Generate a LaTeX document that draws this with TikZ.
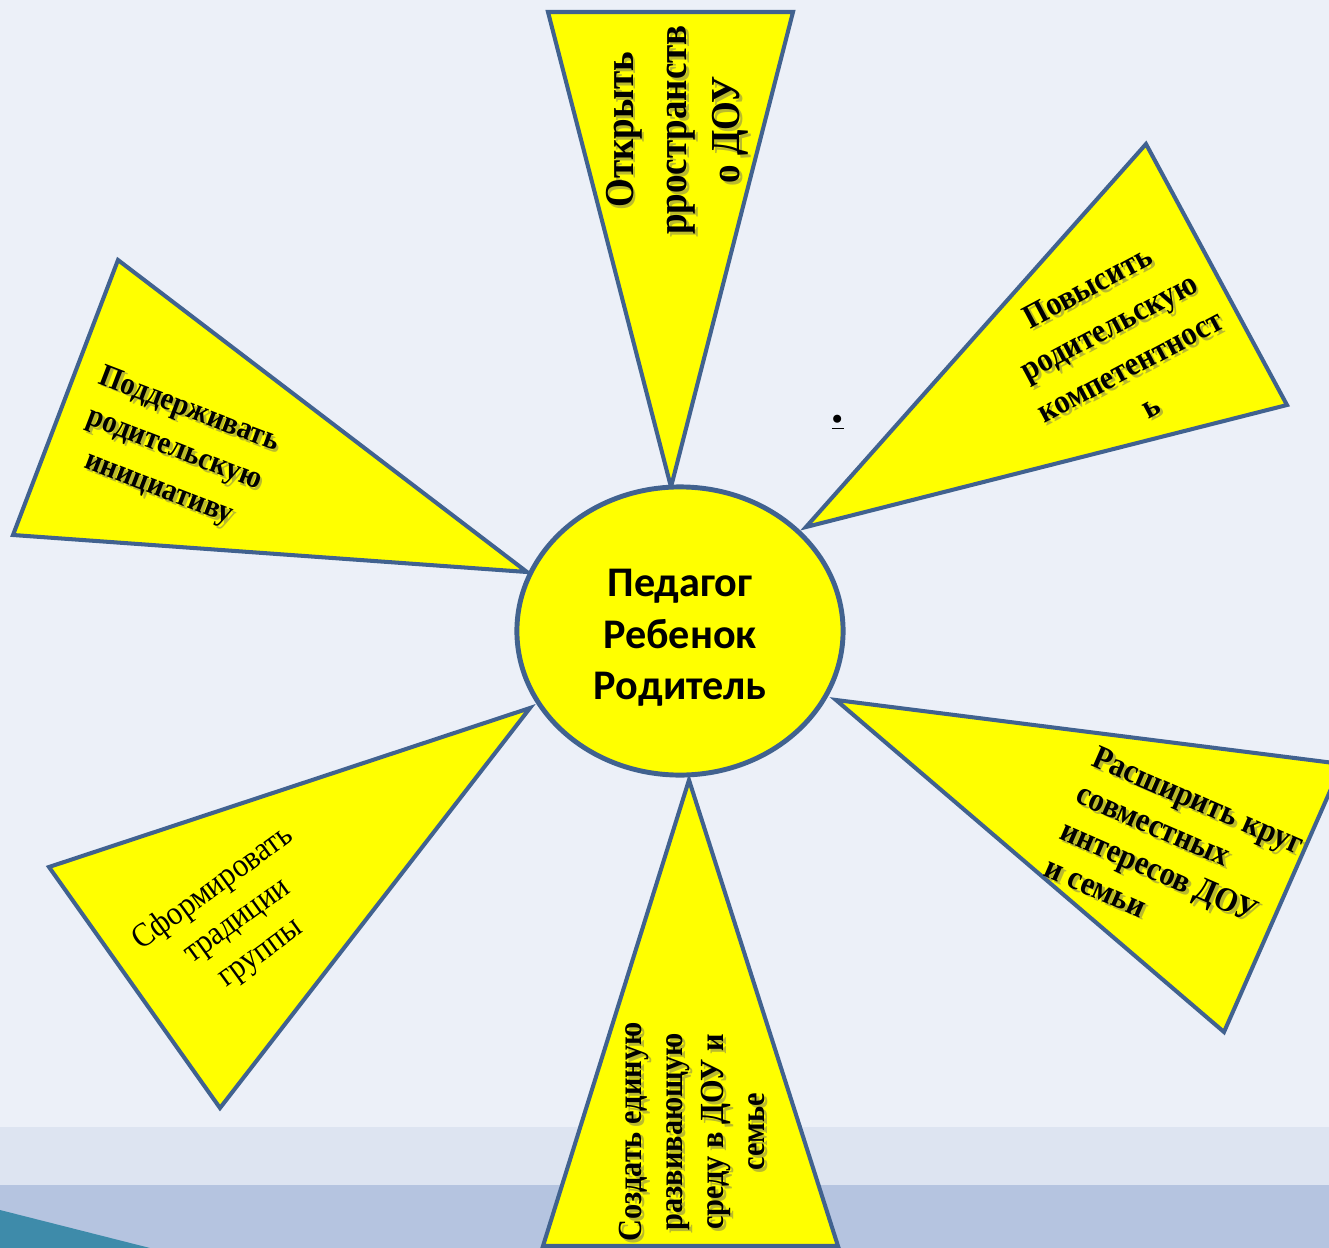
\documentclass[tikz,border=0pt]{standalone}
\usepackage{fontspec}
\setmainfont{Liberation Serif}
\newfontfamily\nserif[FakeStretch=0.9]{Liberation Serif}
\newfontfamily\calib{Carlito}
\usetikzlibrary{shapes.geometric}
\definecolor{bg}{HTML}{ECF0F8}
\definecolor{bandA}{HTML}{DDE4F1}
\definecolor{bandB}{HTML}{B5C4E0}
\definecolor{tealA}{HTML}{3E8BAA}
\definecolor{edge}{HTML}{41628F}
\definecolor{yel}{HTML}{FFFF00}
\newcommand\shlabel[4]{%
  \node[lbl,#3,text=black!60,opacity=0.45] at ([shift={(0.8pt,-0.8pt)}]#2) {#4};
  \node[lbl,#3] (#1) at (#2) {#4};
}
\begin{document}
\begin{tikzpicture}[x=0.01cm,y=-0.01cm,
  ray/.style={fill=yel,draw=edge,line width=1.15pt,line join=miter},
  lbl/.style={align=center,inner sep=0pt},
]
\useasboundingbox (0,0) rectangle (1329,1248);
\fill[bg] (0,0) rectangle (1329,1248);
\fill[bandA] (0,1127) rectangle (1329,1185);
\fill[bandB] (0,1185) rectangle (1329,1248);
\fill[tealA] (0,1210) -- (150,1248) -- (0,1248) -- cycle;

% rays
\draw[ray] (548,12) -- (793,12) -- (671,487) -- cycle;
\draw[ray] (806,527) -- (1146,144) -- (1287,405) -- cycle;
\draw[ray] (836,700) -- (1342,764) -- (1224,1032) -- cycle;
\draw[ray] (689,780) -- (838,1246) -- (543,1246) -- cycle;
\draw[ray] (530,708) -- (220,1108) -- (49,867) -- cycle;
\draw[ray] (527,572) -- (13,535) -- (118,260) -- cycle;

% hub
\node[ellipse,fill=yel,draw=edge,line width=1.4pt,minimum width=3.26cm,minimum height=2.88cm] (hub) at (680,631) {};
\node[font=\calib\bfseries\fontsize{12}{14.65}\selectfont,align=center,inner sep=0pt] (hubtext) at (680,638)
  {Педагог\\Ребенок\\Родитель};

% labels
\shlabel{t1}{677,130}{rotate=90,font=\nserif\bfseries\fontsize{11.7}{15.1}\selectfont}{Открыть\\рространств\\о ДОУ}
\shlabel{t2}{1119,346}{rotate=28,font=\nserif\bfseries\fontsize{9.6}{12.8}\selectfont}{Повысить\\родительскую\\компетентност\\ь}
\shlabel{t3}{1099,744}{rotate=-23.5,anchor=north west,align=left,font=\nserif\bfseries\fontsize{9.6}{11.4}\selectfont}{Расширить круг\\совместных\\интересов ДОУ\\и семьи}
\shlabel{t4}{692,1132}{rotate=90,font=\nserif\bfseries\fontsize{9.6}{11.6}\selectfont}{Создать единую\\развивающую\\среду в ДОУ и\\семье}
\node[lbl,rotate=36,font=\nserif\fontsize{9.6}{11.4}\selectfont] (t5) at (237,921) {Сформировать\\традиции\\группы};
\shlabel{t6}{174,450}{rotate=-21,font=\nserif\bfseries\fontsize{9.1}{12}\selectfont}{Поддерживать\\родительскую\\инициативу}

\node[inner sep=0pt,font=\bfseries\fontsize{14}{16}\selectfont] (dot) at (838,423) {\underline{.}};
\end{tikzpicture}
\end{document}
